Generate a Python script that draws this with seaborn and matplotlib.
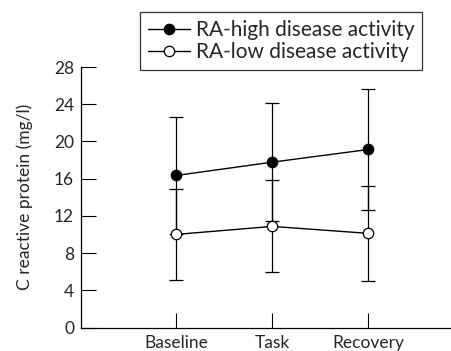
import matplotlib
matplotlib.use("Agg")
import matplotlib.pyplot as plt
import seaborn as sns
import pandas as pd
import numpy as np
from matplotlib.lines import Line2D

conditions = ["Baseline", "Task", "Recovery"]
high_mean = [16.35, 17.78, 19.14]
high_sd = [6.29, 6.36, 6.55]
low_mean = [10.02, 10.88, 10.13]
low_sd = [4.9, 4.94, 5.08]
series_names = ["RA-high disease activity", "RA-low disease activity"]
yticks = [0, 4, 8, 12, 16, 20, 24, 28]

sns.set_theme(style="ticks")
plt.rcParams['font.family'] = ['Lato', 'DejaVu Sans']

df = pd.DataFrame({
    "condition": conditions * 2,
    "crp": high_mean + low_mean,
    "sd": high_sd + low_sd,
    "group": [series_names[0]] * 3 + [series_names[1]] * 3,
})

fig = plt.figure(figsize=(4.52, 3.51), dpi=100)
ax = fig.add_axes([81 / 452, 1 - 327.7 / 351, (452 - 81) / 452, (327.7 - 67) / 351])

face = {series_names[0]: "black", series_names[1]: "white"}
for name in series_names:
    sub = df[df["group"] == name]
    xs = np.arange(len(sub))
    ax.errorbar(xs, sub["crp"], yerr=sub["sd"], fmt="none", ecolor="black",
                elinewidth=0.9, capsize=4.8, capthick=0.9, zorder=2)

sns.lineplot(data=df, x="condition", y="crp", hue="group", style="group",
             palette=["black", "black"], markers=["o", "o"], dashes=False,
             linewidth=1.0, markersize=7.5, ax=ax, legend=False, zorder=3,
             sort=False)
for line, name in zip(ax.lines[-2:], series_names):
    line.set_markerfacecolor(face[name])
    line.set_markeredgecolor("black")
    line.set_markeredgewidth(0.9)

ax.set_xlim(-0.99, 2.87)
ax.set_ylim(0, 28)
ax.set_yticks(yticks)
ax.set_xticks(range(len(conditions)))
ax.set_xticklabels(conditions)
ax.tick_params(axis="both", direction="in", length=11, width=0.8, labelsize=12.5, color="black")
ax.tick_params(axis="y", pad=5)
ax.tick_params(axis="x", pad=5)
ax.set_xlabel("")
ax.set_ylabel("C reactive protein (mg/l)", fontsize=12.5, labelpad=15)
for s in ["top", "right"]:
    ax.spines[s].set_visible(False)
for s in ["left", "bottom"]:
    ax.spines[s].set_linewidth(0.9)
    ax.spines[s].set_color("black")

handles = [Line2D([], [], color="black", lw=1.0, marker="o", markersize=7.5,
                  markerfacecolor=face[n], markeredgecolor="black", markeredgewidth=0.9)
           for n in series_names]
leg = fig.legend(handles, series_names, loc="upper left",
                 bbox_to_anchor=(140 / 452, 1 - 12 / 351), fontsize=15,
                 frameon=True, fancybox=False, handlelength=2.0,
                 borderpad=0.38, labelspacing=0.12, handletextpad=0.3,
                 borderaxespad=0)
leg.get_frame().set_edgecolor("black")
leg.get_frame().set_linewidth(0.9)

fig.savefig("out.png", dpi=100)
